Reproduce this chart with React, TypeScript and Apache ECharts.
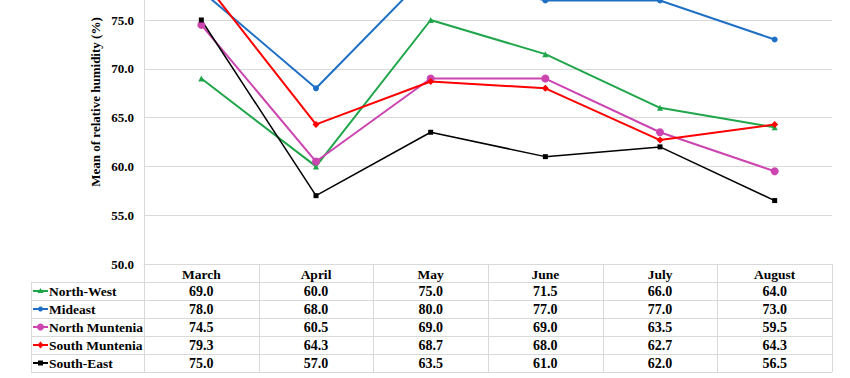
import React, { useEffect, useRef } from "react";
import * as echarts from "echarts";

const months = ["March", "April", "May", "June", "July", "August"];
const northWest = [69.0, 60.0, 75.0, 71.5, 66.0, 64.0];
const mideast = [78.0, 68.0, 80.0, 77.0, 77.0, 73.0];
const northMuntenia = [74.5, 60.5, 69.0, 69.0, 63.5, 59.5];
const southMuntenia = [79.3, 64.3, 68.7, 68.0, 62.7, 64.3];
const southEast = [75.0, 57.0, 63.5, 61.0, 62.0, 56.5];
const seriesNames = ["North-West", "Mideast", "North Muntenia", "South Muntenia", "South-East"];
const yMin = 50;
const yMax = 80;
const yStep = 5;
const yLastShownTick = 75;

const FONT = "'Times New Roman', 'Liberation Serif', serif";
const OFF = 60; // chart canvas extends above the visible page

export default function App() {
  const ref = useRef<HTMLDivElement>(null);
  useEffect(() => {
    if (!ref.current) return;
    const chart = echarts.init(ref.current, null, { renderer: "svg" });
    const data = [northWest, mideast, northMuntenia, southMuntenia, southEast];
    const colors = ["#1fa54a", "#1f6fc4", "#cc44b0", "#ff0000", "#000000"];
    const symbols = ["triangle", "circle", "circle", "diamond", "rect"];
    const symSizes = [6, 6, 8, 7, 5];
    const widths = [2, 2, 2, 2, 1.5];

    const plotLeft = 144;
    const plotRight = 832;
    const axisY = 264 + OFF;
    const rowH = 18;
    const tableLeft = 31;
    const cellW = (plotRight - plotLeft) / months.length;
    const gridLine = "#d9d9d9";
    const txt = (text: string, x: number, y: number, align: string, size = 13, extra: any = {}) => ({
      type: "text",
      x,
      y,
      ...extra,
      style: {
        text,
        fontFamily: FONT,
        fontWeight: "bold",
        fontSize: size,
        fill: "#000",
        align,
        verticalAlign: "middle",
      },
    });

    const graphics: any[] = [];
    for (let r = 1; r <= seriesNames.length + 1; r++) {
      const y = axisY + r * rowH + 0.5;
      graphics.push({
        type: "line",
        shape: { x1: tableLeft, y1: y, x2: plotRight, y2: y },
        style: { stroke: gridLine, lineWidth: 1 },
        silent: true,
      });
    }
    for (let c = 0; c <= months.length; c++) {
      const x = Math.round(plotLeft + c * cellW) + 0.5;
      graphics.push({
        type: "line",
        shape: { x1: x, y1: axisY, x2: x, y2: axisY + rowH * (seriesNames.length + 1) },
        style: { stroke: gridLine, lineWidth: 1 },
        silent: true,
      });
    }
    graphics.push({
      type: "line",
      shape: { x1: tableLeft + 0.5, y1: axisY + rowH, x2: tableLeft + 0.5, y2: axisY + rowH * (seriesNames.length + 1) },
      style: { stroke: gridLine, lineWidth: 1 },
      silent: true,
    });
    seriesNames.forEach((name, i) => {
      const cy = axisY + rowH * (i + 1) + rowH / 2;
      graphics.push({
        type: "line",
        shape: { x1: 33, y1: cy, x2: 48, y2: cy },
        style: { stroke: colors[i], lineWidth: 2 },
      });
      if (symbols[i] === "circle") {
        graphics.push({ type: "circle", shape: { cx: 40.5, cy, r: i === 2 ? 3.5 : 2.5 }, style: { fill: colors[i] } });
      } else if (symbols[i] === "triangle") {
        graphics.push({ type: "polygon", shape: { points: [[40.5, cy - 3], [37.5, cy + 2], [43.5, cy + 2]] }, style: { fill: colors[i] } });
      } else if (symbols[i] === "diamond") {
        graphics.push({ type: "polygon", shape: { points: [[40.5, cy - 3.5], [43.5, cy], [40.5, cy + 3.5], [37.5, cy]] }, style: { fill: colors[i] } });
      } else {
        graphics.push({ type: "rect", shape: { x: 38, y: cy - 2.5, width: 5, height: 5 }, style: { fill: colors[i] } });
      }
      graphics.push(txt(name, 49, cy, "left", 13.5));
      data[i].forEach((v, j) => {
        graphics.push(txt(v.toFixed(1), plotLeft + cellW * (j + 0.5), cy, "center", 14));
      });
    });
    graphics.push(txt("Mean of relative humidity (%)", 95, 102 + OFF, "center", 13, { rotation: Math.PI / 2 }));

    const pxPerUnit = (264 - 20) / 25;
    const top = 20 + OFF - (yMax - 75) * pxPerUnit;

    chart.setOption({
      animation: false,
      grid: { left: plotLeft, right: 850 - plotRight, top, bottom: 378 + OFF - axisY, containLabel: false },
      xAxis: {
        type: "category",
        data: months,
        boundaryGap: true,
        axisLine: { show: true, lineStyle: { color: gridLine } },
        axisTick: { show: false },
        axisLabel: { color: "#000", fontFamily: FONT, fontWeight: "bold", fontSize: 13.5, margin: 3 },
      },
      yAxis: {
        type: "value",
        min: yMin,
        max: yMax,
        interval: yStep,
        axisLine: { show: true, lineStyle: { color: gridLine } },
        axisTick: { show: false },
        splitLine: { lineStyle: { color: gridLine, width: 1 } },
        axisLabel: {
          color: "#000",
          fontFamily: FONT,
          fontWeight: "bold",
          fontSize: 13,
          margin: 10,
          formatter: (v: number) => (v > yLastShownTick ? "" : v.toFixed(1)),
        },
      },
      series: seriesNames.map((name, i) => ({
        name,
        type: "line",
        data: data[i],
        symbol: symbols[i],
        symbolSize: symSizes[i],
        lineStyle: { color: colors[i], width: widths[i] },
        itemStyle: { color: colors[i] },
        clip: false,
      })),
      graphic: graphics,
    });
    return () => chart.dispose();
  }, []);
  return (
    <div style={{ position: "absolute", left: 0, top: 0, width: 850, height: 378, overflow: "hidden" }}>
      <div ref={ref} style={{ width: 850, height: 378 + OFF, position: "absolute", left: 0, top: -OFF }} />
    </div>
  );
}
